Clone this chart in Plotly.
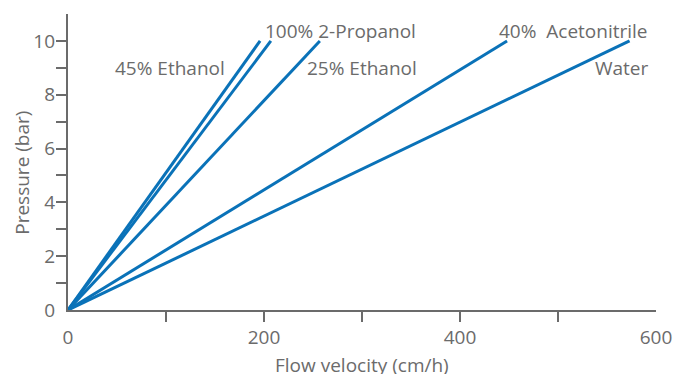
import plotly.graph_objects as go

# Pressure/flow curves: each line runs from the origin to 10 bar
solvents = ["45% Ethanol", "100% 2-Propanol", "25% Ethanol", "40% Acetonitrile", "Water"]
flow_at_10bar = [196, 207, 257, 448, 573]   # cm/h
pressure_end = [10, 10, 10, 10, 10]         # bar

x_label_vals = [0, 200, 400, 600]
x_tick_vals = [100, 200, 300, 400, 500]
y_label_vals = [0, 2, 4, 6, 8, 10]
y_tick_vals = [1, 2, 3, 4, 5, 6, 7, 8, 9, 10]

# Curve labels (text, x, y in data units, anchor)
curve_labels = [
    ("100% 2-Propanol", 199, 10.37, "left"),
    ("45% Ethanol", 162, 9.0, "right"),
    ("25% Ethanol", 242, 9.0, "left"),
    ("40%  Acetonitrile", 438, 10.37, "left"),
    ("Water", 595, 9.0, "right"),
]

BLUE = "#0a72b8"
GREY = "#6b6b6b"
FONT = "Open Sans"
FS = 19

fig = go.Figure()
for name, fx, py in zip(solvents, flow_at_10bar, pressure_end):
    fig.add_trace(go.Scatter(
        x=[0, fx], y=[0, py], mode="lines", name=name,
        line=dict(color=BLUE, width=3), showlegend=False, hoverinfo="skip",
    ))

# invisible trace carrying the labelled overlay axes
fig.add_trace(go.Scatter(x=[0, 600], y=[0, 11], xaxis="x2", yaxis="y2",
                         mode="markers", marker=dict(opacity=0),
                         showlegend=False, hoverinfo="skip"))

for text, x, y, anchor in curve_labels:
    fig.add_annotation(x=x, y=y, text=text, showarrow=False, xanchor=anchor,
                       yanchor="middle", font=dict(family=FONT, size=FS, color=GREY))

# axis titles
fig.add_annotation(text="Flow velocity (cm/h)", xref="paper", yref="paper",
                   x=0.5, y=0, yshift=-55, xanchor="center", yanchor="middle",
                   showarrow=False, font=dict(family=FONT, size=FS, color=GREY))
fig.add_annotation(text="Pressure (bar)", xref="paper", yref="y",
                   x=0, y=5.1, xshift=-46, xanchor="center", yanchor="middle",
                   textangle=-90, showarrow=False,
                   font=dict(family=FONT, size=FS, color=GREY))

common = dict(showgrid=False, zeroline=False, linecolor=GREY, linewidth=1.5,
              tickcolor=GREY, tickwidth=1.5, ticklen=10, automargin=False,
              tickfont=dict(family=FONT, size=FS, color=GREY))

fig.update_layout(
    width=674, height=374,
    margin=dict(l=68, r=18, t=14, b=64),
    paper_bgcolor="white", plot_bgcolor="white",
    xaxis=dict(range=[0, 600], tickmode="array", tickvals=x_tick_vals,
               ticks="outside", showticklabels=False, showline=True, **common),
    yaxis=dict(range=[0, 11], tickmode="array", tickvals=y_tick_vals,
               ticks="outside", showticklabels=False, showline=True, **common),
    xaxis2=dict(range=[0, 600], overlaying="x", side="bottom", anchor="y2",
                tickmode="array", tickvals=x_label_vals, ticks="",
                ticklabelstandoff=14, showline=False, **common),
    yaxis2=dict(range=[0, 11], overlaying="y", side="left", anchor="x2",
                tickmode="array", tickvals=y_label_vals, ticks="",
                ticklabelstandoff=12, showline=False, **common),
)

fig.write_html("out.html")
